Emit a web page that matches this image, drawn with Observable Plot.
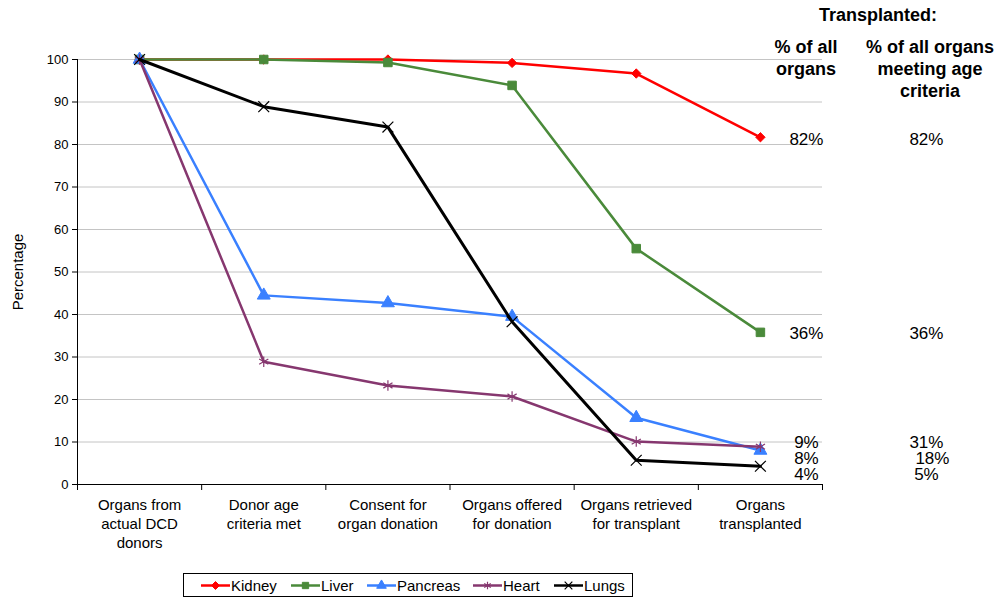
<!DOCTYPE html>
<html><head><meta charset="utf-8">
<script src="https://cdn.jsdelivr.net/npm/d3@7"></script>
<script src="https://cdn.jsdelivr.net/npm/@observablehq/plot@0.6"></script>
<style>
body{margin:0;background:#fff;font-family:Arial,"Liberation Sans",sans-serif;color:#000}
#wrap{position:relative;width:1001px;height:599px;overflow:hidden}
#wrap > svg{position:absolute;left:0;top:0}
.hd{position:absolute;font-weight:bold;font-size:18px;text-align:center;line-height:22px;white-space:nowrap}
#legend{position:absolute;left:183px;top:573px;width:450px;height:24px;border:1px solid #000;box-sizing:border-box;font-size:15px}
#legend .it{position:absolute;top:4px;display:flex;align-items:center;height:15px}
#legend .it svg{display:block}
</style></head>
<body><div id="wrap"></div>
<script>
const stages = ["Organs from\nactual DCD\ndonors","Donor age\ncriteria met","Consent for\norgan donation","Organs offered\nfor donation","Organs retrieved\nfor transplant","Organs\ntransplanted"];
const organs = ["Kidney","Liver","Pancreas","Heart","Lungs"];
const kidney = [100,100,100,99.2,96.7,81.7];
const liver = [100,100,99.3,93.9,55.5,35.8];
const pancreas = [100,44.5,42.7,39.5,15.7,8.0];
const heart = [100,28.9,23.3,20.7,10.1,8.9];
const lungs = [100,88.9,84.1,38.3,5.7,4.3];
const pctAll = ["82%","36%","8%","9%","4%"];
const pctAge = ["82%","36%","18%","31%","5%"];
const yTicks = [0,10,20,30,40,50,60,70,80,90,100];

const series = [kidney, liver, pancreas, heart, lungs];
const colors = ["#FF0000","#4A8A3A","#3A80FF","#86376F","#000000"];
const symbols = ["diamond2","square","triangle","asterisk","times"];
const filled = [true,true,true,false,false];
const data = [];
series.forEach((s,k)=>s.forEach((v,i)=>data.push({organ:organs[k], i:i+0.5, v})));
const last = organs.map((o,k)=>({organ:o, k, v:series[k][series[k].length-1], a:pctAll[k], b:pctAge[k]}));
const dyMap = {Kidney:2, Liver:1, Pancreas:8, Heart:-4, Lungs:8};
const dxB = {Kidney:0, Liver:0, Pancreas:6, Heart:0, Lungs:0};

const marks = [
  Plot.ruleY(yTicks.filter(d=>d>0), {stroke:"#c4c4c4", strokeWidth:1}),
  Plot.ruleX([0], {stroke:"#000"}),
  Plot.ruleY([0], {stroke:"#000"}),
  Plot.axisX({ticks:d3.range(0, stages.length+1), tickSize:6, tickFormat:()=>"", label:null}),
];
series.forEach((s,k)=>{
  const d = data.filter(r=>r.organ===organs[k]);
  marks.push(Plot.line(d, {x:"i", y:"v", stroke:colors[k], strokeWidth:k===4?3:2.5}));
  marks.push(Plot.dot(d, filled[k]
    ? {x:"i", y:"v", symbol:()=>symbols[k], fill:colors[k], stroke:colors[k], strokeWidth:1, r:k===0?4.2:(k===1?4.8:4.8)}
    : {x:"i", y:"v", symbol:()=>symbols[k], stroke:colors[k], strokeWidth:1.2, r:5}));
});

const chart = Plot.plot({
  width:1001, height:599,
  marginLeft:77, marginRight:179, marginTop:59, marginBottom:115,
  style:{fontFamily:"Arial, 'Liberation Sans', sans-serif", fontSize:"14px", color:"#000", background:"transparent"},
  x:{type:"linear", domain:[0,stages.length], axis:null},
  y:{domain:[0,100], axis:null},
  marks:[
    ...marks,
    Plot.axisY({ticks:yTicks, tickSize:5, tickPadding:4, fontSize:13, label:null}),
    Plot.axisX({ticks:d3.range(stages.length).map(i=>i+0.5), tickSize:0, tickPadding:12, tickFormat:d=>stages[Math.floor(d)], fontSize:15, lineHeight:1.27, label:null, textAnchor:"middle"}),
    ...last.map(d=>Plot.text([d], {x:()=>5.5, y:"v", text:"a", dx:46, dy:dyMap[d.organ], fontSize:17, textAnchor:"middle"})),
    ...last.map(d=>Plot.text([d], {x:()=>5.5, y:"v", text:"b", dx:166+dxB[d.organ], dy:dyMap[d.organ], fontSize:17, textAnchor:"middle"})),
    Plot.text(["Percentage"], {frameAnchor:"left", dx:-59, rotate:-90, fontSize:15, textAnchor:"middle"})
  ]
});
const wrap = document.getElementById("wrap");
wrap.appendChild(chart);

function hd(txt, cx, top){
  const d=document.createElement("div"); d.className="hd"; d.innerHTML=txt;
  d.style.left=(cx-100)+"px"; d.style.width="200px"; d.style.top=top+"px"; wrap.appendChild(d);
}
hd("Transplanted:", 878, 4);
hd("% of all<br>organs", 806, 36);
hd("% of all organs<br>meeting age<br>criteria", 930, 36);

const leg=document.createElement("div"); leg.id="legend"; wrap.appendChild(leg);
const lx=[17,107,183,289,370];
const symFn={diamond2:d3.symbolDiamond2,square:d3.symbolSquare,triangle:d3.symbolTriangle,asterisk:d3.symbolAsterisk,times:d3.symbolTimes};
organs.forEach((o,k)=>{
  const it=document.createElement("div"); it.className="it"; it.style.left=lx[k]+"px";
  const sym = d3.symbol(symFn[symbols[k]], 40)();
  it.innerHTML=`<svg width="29" height="13" style="margin-right:1px"><line x1="0" x2="29" y1="6.5" y2="6.5" stroke="${colors[k]}" stroke-width="2.5"/><path transform="translate(14.5,6.5)" d="${sym}" ${filled[k]?`fill="${colors[k]}" stroke="${colors[k]}"`:`fill="none" stroke="${colors[k]}" stroke-width="1.2"`}/></svg><span>${o}</span>`;
  leg.appendChild(it);
});
</script></body></html>
